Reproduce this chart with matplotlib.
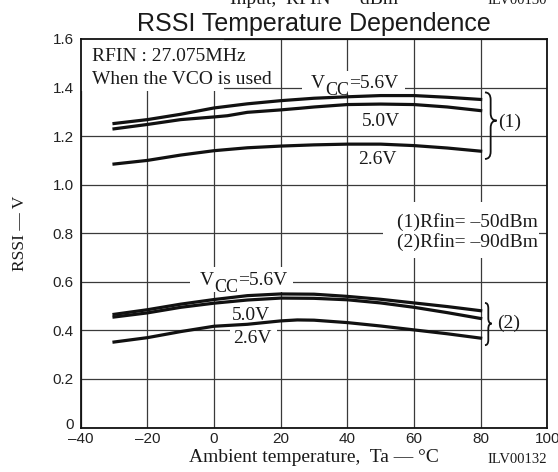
import matplotlib
matplotlib.use("Agg")
import matplotlib.pyplot as plt
import matplotlib.transforms as mtransforms
from matplotlib.patches import Rectangle, PathPatch
from matplotlib.path import Path

# ---------------- data ----------------
temps = [-30, -20, -10, 0, 10, 20, 30, 40, 50, 60, 70, 80]
temps_kink = [-30, -20, -10, 0, 4, 10, 20, 26, 30, 40, 50, 60, 70, 80]
temps_26low = [-30, -20, -10, 0, 10, 20, 25, 30, 40, 50, 60, 70, 80]

hi_56 = [1.252, 1.268, 1.290, 1.316, 1.333, 1.346, 1.356, 1.362, 1.367, 1.367, 1.360, 1.351]
hi_50 = [1.230, 1.248, 1.268, 1.279, 1.284, 1.298, 1.308, 1.315, 1.320, 1.330, 1.332, 1.330, 1.320, 1.305]
hi_26 = [1.085, 1.100, 1.122, 1.140, 1.152, 1.159, 1.164, 1.167, 1.167, 1.161, 1.151, 1.138]

lo_56 = [0.466, 0.485, 0.508, 0.527, 0.543, 0.550, 0.549, 0.540, 0.528, 0.513, 0.498, 0.481]
lo_50 = [0.455, 0.472, 0.495, 0.512, 0.525, 0.533, 0.532, 0.526, 0.513, 0.495, 0.473, 0.449]
lo_26 = [0.352, 0.370, 0.395, 0.417, 0.425, 0.439, 0.443, 0.442, 0.432, 0.418, 0.402, 0.386, 0.368]

xticks = [-40, -20, 0, 20, 40, 60, 80, 100]
yticks = [0, 0.2, 0.4, 0.6, 0.8, 1.0, 1.2, 1.4, 1.6]
ytick_labels = ["0", "0.2", "0.4", "0.6", "0.8", "1.0", "1.2", "1.4", "1.6"]

SERIF = "Liberation Serif"
SANS = "Liberation Sans"

W, H = 558, 472
fig = plt.figure(figsize=(W / 100, H / 100), dpi=100)
L, R, T, B = 80.7, 547.3, 39.0, 427.5
ax = fig.add_axes([L / W, 1 - B / H, (R - L) / W, (B - T) / H])
ax.set_xlim(-40, 100)
ax.set_ylim(0, 1.6)
ax.set_xticks(xticks)
ax.set_xticklabels([str(v).replace("-", "\u2013") for v in xticks])
ax.set_yticks(yticks)
ax.set_yticklabels(ytick_labels)
ax.tick_params(axis="x", length=0, labelsize=11, pad=3)
ax.tick_params(axis="y", length=0, labelsize=11, pad=5)
for lab in ax.get_xticklabels() + ax.get_yticklabels():
    lab.set_family(SANS)
    lab.set_color("#222")
# nudge the "0" y label up slightly, as in the reference
zero_lab = ax.get_yticklabels()[0]
zero_lab.set_transform(zero_lab.get_transform() +
                       mtransforms.ScaledTranslation(0, 4 / 100, fig.dpi_scale_trans))
ax.grid(True, color="#3a3a3a", lw=0.9)
ax.set_axisbelow(True)
for s in ax.spines.values():
    s.set_linewidth(1.3)
    s.set_color("#111")

# white masks behind texts (hide grid)
def mask(x0, x1, y0, y1):
    ax.add_patch(Rectangle((x0, y0), x1 - x0, y1 - y0, facecolor="white",
                           edgecolor="none", zorder=1))

mask(-40, 3, 1.385, 1.6)
mask(26.3, 57.3, 1.375, 1.47)
mask(-7.2, 23.8, 0.558, 0.661)
mask(4.8, 19.0, 0.39, 0.41)
mask(50.8, 97.4, 0.70, 0.93)

lc = "#111"
lw = 2.3
ax.plot(temps, hi_56, color=lc, lw=lw, zorder=2)
ax.plot(temps_kink, hi_50, color=lc, lw=lw, zorder=2)
ax.plot(temps, hi_26, color=lc, lw=lw, zorder=2)
ax.plot(temps, lo_56, color=lc, lw=lw, zorder=2)
ax.plot(temps, lo_50, color=lc, lw=lw, zorder=2)
ax.plot(temps_26low, lo_26, color=lc, lw=lw, zorder=2)

tk = dict(family=SERIF, fontsize=14, color="#1a1a1a", zorder=3)

ax.text(-36.5, 1.5105, "RFIN : 27.075MHz", va="baseline", ha="left", **tk)
ax.text(-36.5, 1.4128, "When the VCO is used", va="baseline", ha="left", **tk)


def vcc_label(x, y, rest):
    t1 = ax.text(x, y, "V", va="baseline", ha="left", **tk)
    t2 = ax.annotate("CC", xy=(1, 0), xycoords=t1, xytext=(0, -5),
                     textcoords="offset points", va="bottom", ha="left",
                     family=SERIF, fontsize=13, color="#1a1a1a", zorder=3)
    ax.annotate(rest, xy=(1, 0), xycoords=t2, xytext=(0, 5),
                textcoords="offset points", va="bottom", ha="left",
                family=SERIF, fontsize=14, color="#1a1a1a", zorder=3)


vcc_label(29.0, 1.40, "=5.6V")
ax.text(44.3, 1.243, "5.0V", va="baseline", ha="left", **tk)
ax.text(43.2, 1.086, "2.6V", va="baseline", ha="left", **tk)

vcc_label(-4.2, 0.585, "=5.6V")
ax.text(5.3, 0.442, "5.0V", va="baseline", ha="left", **tk)
ax.text(5.7, 0.346, "2.6V", va="baseline", ha="left", **tk)

ax.text(54.8, 0.825, "(1)Rfin= \u201350dBm", va="baseline", ha="left", **tk)
ax.text(54.8, 0.743, "(2)Rfin= \u201390dBm", va="baseline", ha="left", **tk)

ax.text(85.2, 1.258, "(1)", va="center", ha="left", **tk)
ax.text(84.8, 0.428, "(2)", va="center", ha="left", **tk)


def brace(x0, xm, xt, ytop, ymid, ybot, r):
    verts = [(x0, ytop), (xm, ytop), (xm, ytop - r),
             (xm, ymid + r),
             (xm, ymid), (xt, ymid),
             (xm, ymid), (xm, ymid - r),
             (xm, ybot + r),
             (xm, ybot), (x0, ybot)]
    codes = [Path.MOVETO, Path.CURVE3, Path.CURVE3,
             Path.LINETO,
             Path.CURVE3, Path.CURVE3,
             Path.CURVE3, Path.CURVE3,
             Path.LINETO,
             Path.CURVE3, Path.CURVE3]
    ax.add_patch(PathPatch(Path(verts, codes), facecolor="none",
                           edgecolor="#111", lw=1.3, zorder=3,
                           clip_on=False))


brace(81.3, 83.0, 84.8, 1.38, 1.264, 1.106, 0.03)
brace(81.3, 82.3, 83.3, 0.513, 0.428, 0.339, 0.022)

# figure-level texts
fig.text(314 / W, 1 - 31.3 / H, "RSSI Temperature Dependence", ha="center",
         va="baseline", fontsize=18, family=SANS, color="#1a1a1a")
fig.text(314 / W, 1 - 4.5 / H, "Input,  RFIN \u2014 dBm", ha="center",
         va="baseline", fontsize=14, family=SERIF, color="#1a1a1a")
fig.text(547 / W, 1 - 4.5 / H, "ILV00130", ha="right", va="baseline",
         fontsize=10.5, family=SERIF, color="#1a1a1a")
fig.text(20 / W, 1 - 233 / H, "RSSI \u2014 V", rotation=90, ha="center",
         va="center", fontsize=12.5, family=SERIF, color="#1a1a1a")
fig.text(314 / W, 1 - 462 / H, "Ambient temperature,  Ta \u2014 \u00b0C",
         ha="center", va="baseline", fontsize=14, family=SERIF, color="#1a1a1a")
fig.text(547 / W, 1 - 463 / H, "ILV00132", ha="right", va="baseline",
         fontsize=10.5, family=SERIF, color="#1a1a1a")

fig.savefig("out.png", dpi=100)
